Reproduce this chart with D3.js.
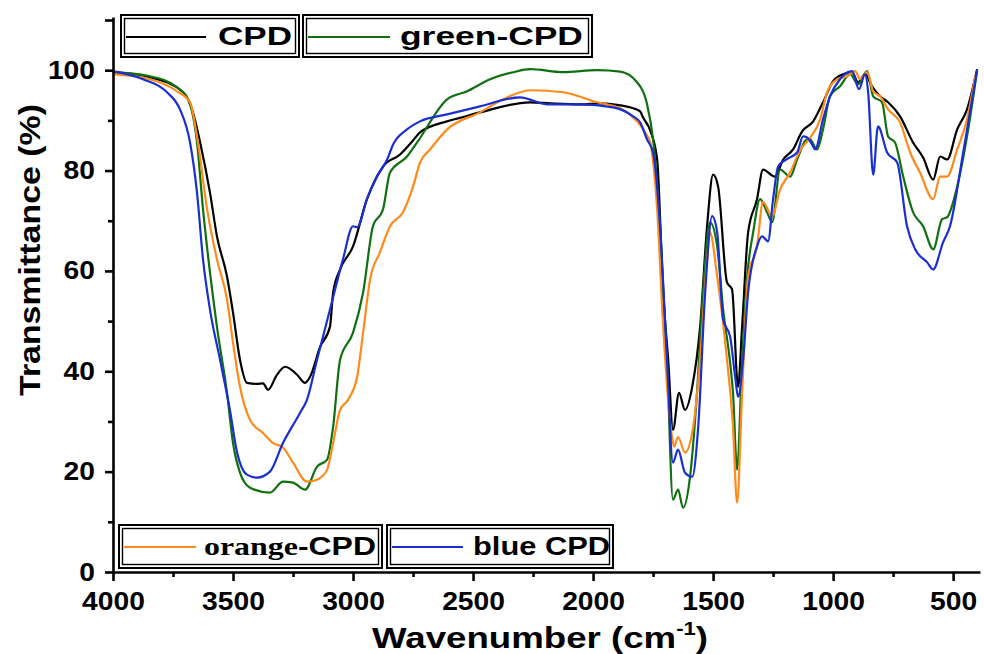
<!DOCTYPE html>
<html><head><meta charset="utf-8">
<script src="https://cdn.jsdelivr.net/npm/d3@7"></script>
<style>body{margin:0;background:#fff}svg{display:block}</style>
</head><body>
<svg id="c" width="984" height="654"></svg>
<script>
// ---- data (wavenumber cm-1, transmittance %) ----
const seriesNames = ["CPD", "green-CPD", "orange-CPD", "blue CPD"];
const seriesColors = ["#000000", "#107010", "#ff8a1c", "#1a2fd0"];
const xTickValues = [4000, 3500, 3000, 2500, 2000, 1500, 1000, 500];
const xMinorValues = [3750, 3250, 2750, 2250, 1750, 1250, 750];
const yTickValues = [0, 20, 40, 60, 80, 100];
const yMinorValues = [10, 30, 50, 70, 90, 110];

const cpd = [[4000,99.6],[3846,98.6],[3708,95.6],[3667,91.6],[3637,85.6],[3596,75.6],[3567,66.9],[3525,58.9],[3500,51.7],[3471,42.3],[3442,37.7],[3400,37.5],[3375,37.6],[3354,36.3],[3317,39.3],[3283,40.9],[3233,39.3],[3200,37.7],[3179,38.9],[3137,44.9],[3096,48.9],[3083,55.7],[3054,60.3],[3000,64.9],[2942,74.3],[2875,80.8],[2804,83.2],[2750,86],[2721,87.6],[2608,89.8],[2554,90.5],[2471,91.6],[2262,93.6],[2179,93.4],[2054,93.2],[1971,93.4],[1917,93.2],[1887,93.0],[1833,92.4],[1804,91.8],[1792,90.6],[1762,88],[1733,82.2],[1708,55.7],[1687,42.3],[1667,28.3],[1642,35.7],[1617,32.3],[1587,36.9],[1554,48.9],[1525,68.9],[1500,79.2],[1479,76.8],[1442,57.7],[1421,56.3],[1396,36.9],[1379,48.9],[1354,67.7],[1317,74.3],[1292,80.2],[1242,78.8],[1208,82.2],[1167,84.2],[1129,87.8],[1083,89.8],[1042,93.6],[1000,97.8],[958,99.2],[921,99.6],[896,97.6],[867,99.2],[838,96.8],[804,94.8],[771,93.6],[721,90.8],[667,85.6],[625,82.6],[583,78.2],[554,82.8],[525,82.2],[483,88.2],[442,92.2],[400,100.2]];

const greenCpd = [[4000,99.6],[3846,98.8],[3733,96.6],[3687,94.2],[3650,85.6],[3625,72.3],[3596,59.7],[3567,48.9],[3525,35.7],[3500,25.7],[3471,19.8],[3429,16.8],[3346,15.8],[3292,18.0],[3250,17.8],[3200,16.4],[3150,21.0],[3108,22.4],[3083,28.9],[3054,42.3],[3000,47.7],[2958,55.7],[2917,68.9],[2875,72.3],[2846,79.6],[2775,82.8],[2733,85.6],[2608,94.2],[2525,95.8],[2429,98.2],[2333,99.6],[2262,100.2],[2125,99.6],[1983,100],[1887,99.7],[1817,97.6],[1775,93.2],[1750,86.2],[1721,68.9],[1692,42.3],[1667,14.4],[1646,16.4],[1625,12.8],[1596,19.0],[1567,35.7],[1542,55.7],[1513,69.7],[1483,64.9],[1458,52.3],[1429,41.7],[1417,35.7],[1400,20.4],[1379,42.3],[1358,58.9],[1333,67.7],[1304,74.3],[1275,71.7],[1254,69.7],[1221,80.2],[1179,78.8],[1150,82.2],[1108,86.2],[1096,86.2],[1067,84.2],[1042,88.2],[1013,94.8],[971,96.8],[929,99.2],[896,97.2],[858,99.8],[833,94.8],[796,93.6],[771,86.8],[742,85.6],[708,78.8],[667,71.7],[625,68.9],[583,64.3],[546,70.3],[525,70.7],[483,76.8],[442,86.8],[400,100]];

const orangeCpd = [[4000,99.2],[3846,98.2],[3733,95.8],[3679,93.6],[3650,86.8],[3608,72.3],[3567,62.3],[3525,54.3],[3500,45.7],[3471,36.9],[3429,30.3],[3375,27.7],[3333,25.7],[3292,24.8],[3250,21.8],[3192,18.0],[3150,18.4],[3108,20.4],[3083,25.7],[3054,32.3],[3021,34.3],[2983,38.9],[2958,47.7],[2929,58.3],[2888,63.7],[2846,68.9],[2792,71.7],[2750,76.8],[2721,81.6],[2679,84.2],[2608,88.2],[2471,91.6],[2375,94.2],[2262,96],[2125,95.6],[1983,93.6],[1887,92.4],[1817,89.8],[1775,87],[1762,85.6],[1733,72.3],[1708,48.9],[1671,26.9],[1662,25],[1646,26.9],[1617,23.8],[1583,28.9],[1554,42.3],[1525,62.3],[1513,67.7],[1483,58.9],[1442,42.3],[1417,28.9],[1400,13.8],[1379,35.7],[1354,58.9],[1317,64.9],[1292,73.7],[1254,70.9],[1221,76.2],[1179,79.6],[1138,84],[1096,86.5],[1054,90.2],[1025,95.6],[983,98.2],[942,98.8],[908,99.8],[888,98.2],[858,99.6],[833,95.8],[804,94.8],[771,92.2],[721,89.6],[679,83.6],[638,79.6],[583,74.3],[554,78.8],[525,78.8],[483,84.2],[442,90.2],[408,98.8]];

const blueCpd = [[4000,99.8],[3875,98.2],[3775,95.6],[3721,92.2],[3679,85.6],[3650,75.6],[3625,62.3],[3596,52.3],[3554,42.3],[3513,32.3],[3483,23.8],[3442,19.4],[3400,18.8],[3346,20.0],[3292,25.7],[3221,31.7],[3192,34.3],[3150,42.3],[3096,52.3],[3042,62.3],[3000,68.9],[2983,68.7],[2942,74.3],[2900,78.8],[2858,82.2],[2833,85.2],[2775,88.2],[2721,89.8],[2608,91.2],[2471,92.8],[2304,94.6],[2192,93.2],[2054,93.2],[1917,92.6],[1833,90.8],[1804,89.6],[1775,86.2],[1750,83.6],[1721,68.9],[1692,42.3],[1667,21.8],[1646,24.4],[1617,19.8],[1587,19.0],[1562,28.9],[1533,55.7],[1504,70.9],[1483,67.7],[1458,50.3],[1429,46.9],[1408,38.9],[1396,34.9],[1375,42.3],[1354,55.7],[1317,64.9],[1296,66.9],[1271,65.9],[1250,74.3],[1229,80.8],[1196,82.2],[1150,83.6],[1125,86.8],[1108,86.6],[1083,84.8],[1075,84.2],[1042,90.2],[1013,94.8],[971,98.2],[921,99.8],[892,96.2],[867,99.2],[854,95.6],[833,79.2],[813,88.8],[775,83.6],[733,81.6],[692,68.9],[658,64.3],[608,61.7],[583,60.3],[542,65.7],[513,68.9],[458,83.6],[400,100]];

const seriesData = [cpd, greenCpd, orangeCpd, blueCpd];

// ---- chart ----
const svg = d3.select("#c");
const FONT = "'Liberation Sans', Arial, sans-serif";
const x = d3.scaleLinear().domain([4000, 388]).range([113, 980]);
const y = d3.scaleLinear().domain([0, 110.6]).range([572, 17]);
const TS = 1.13; // horizontal text stretch

// curves
const line = d3.line().x(d => x(d[0])).y(d => y(d[1])).curve(d3.curveMonotoneX);
seriesData.forEach((s, i) => {
  svg.append("path").datum(s).attr("d", line)
    .attr("fill", "none").attr("stroke", seriesColors[i])
    .attr("stroke-width", 2.2).attr("stroke-linejoin", "round");
});

// axes
function styleAxis(g) {
  g.select(".domain").attr("stroke", "#000").attr("stroke-width", 2.6);
  g.selectAll(".tick line").attr("stroke", "#000").attr("stroke-width", 2.6);
  g.selectAll("text").attr("font-family", FONT).attr("font-weight", "bold")
    .attr("font-size", 25).attr("fill", "#000");
}
const gx = svg.append("g").attr("transform", "translate(0,572)")
  .call(d3.axisBottom(x).tickValues(xTickValues).tickSize(9).tickPadding(11).tickSizeOuter(0).tickFormat(d3.format("d")));
styleAxis(gx);
gx.selectAll("text").attr("transform", `scale(${TS},1)`);
const gxm = svg.append("g").attr("transform", "translate(0,572)")
  .call(d3.axisBottom(x).tickValues(xMinorValues).tickSize(5).tickFormat(""));
styleAxis(gxm); gxm.select(".domain").remove();

const gy = svg.append("g").attr("transform", "translate(113,0)")
  .call(d3.axisLeft(y).tickValues(yTickValues).tickSize(8).tickPadding(10).tickSizeOuter(0).tickFormat(d3.format("d")));
styleAxis(gy);
gy.selectAll("text").attr("x", -18 / TS).attr("transform", `scale(${TS},1)`);
const gym = svg.append("g").attr("transform", "translate(113,0)")
  .call(d3.axisLeft(y).tickValues(yMinorValues).tickSize(5).tickFormat(""));
styleAxis(gym); gym.select(".domain").remove();
gym.selectAll(".tick").filter(d => d === 110).select("line").attr("x2", -8);

// stretched text helper
function fitText(g, targetW) {
  const b = g.select("text").node().getBBox();
  g.select("text").attr("transform", `scale(${targetW / b.width},1)`);
}

// axis titles
const xt = svg.append("g").attr("transform", "translate(540,648)");
const xtt = xt.append("text").attr("text-anchor", "middle").attr("font-family", FONT)
  .attr("font-weight", "bold").attr("font-size", 30).attr("fill", "#000");
xtt.append("tspan").text("Wavenumber (cm");
xtt.append("tspan").attr("font-size", 18).attr("dy", -13).text("-1");
xtt.append("tspan").attr("dy", 13).text(")");
fitText(xt, 336);

const yt = svg.append("g").attr("transform", "translate(40,250) rotate(-90)");
yt.append("text").attr("text-anchor", "middle").attr("font-family", FONT)
  .attr("font-weight", "bold").attr("font-size", 30).attr("fill", "#000")
  .text("Transmittance (%)");
fitText(yt, 292);

// legends
const legends = [
  {i: 0, box: [121, 15, 178, 42], l: [126, 206, 37], t: [218, 45, 74]},
  {i: 1, box: [303, 15, 289, 42], l: [308, 390, 37], t: [400, 45, 183]},
  {i: 2, box: [119, 525, 263, 43], l: [124, 196, 547], t: [204, 555, 172]},
  {i: 3, box: [387, 525, 226, 43], l: [392, 463, 547], t: [473, 555, 137]}
];
legends.forEach(L => {
  const [bx, by, bw, bh] = L.box;
  svg.append("rect").attr("x", bx).attr("y", by).attr("width", bw).attr("height", bh)
    .attr("fill", "#fff").attr("stroke", "#000").attr("stroke-width", 2);
  svg.append("rect").attr("x", bx + 3.5).attr("y", by + 3.5).attr("width", bw - 7).attr("height", bh - 7)
    .attr("fill", "none").attr("stroke", "#000").attr("stroke-width", 1.4);
  svg.append("line").attr("x1", L.l[0]).attr("x2", L.l[1]).attr("y1", L.l[2]).attr("y2", L.l[2])
    .attr("stroke", seriesColors[L.i]).attr("stroke-width", 2.2);
  const g = svg.append("g").attr("transform", `translate(${L.t[0]},${L.t[1]})`);
  const t = g.append("text").attr("font-family", FONT).attr("font-weight", "bold")
    .attr("font-size", 25).attr("fill", "#000");
  const name = seriesNames[L.i];
  if (name === "orange-CPD") {
    t.append("tspan").attr("font-family", "'Liberation Serif', 'Times New Roman', serif").text("orange");
    t.append("tspan").text("-CPD");
  } else {
    t.text(name);
  }
  fitText(g, L.t[2]);
});
</script>
</body></html>
